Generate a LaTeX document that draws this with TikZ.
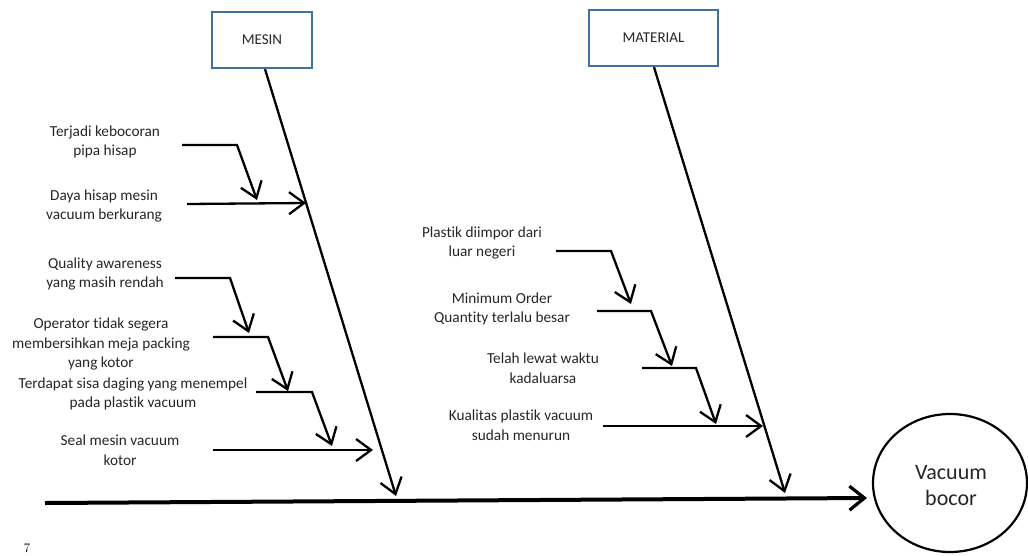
\documentclass[tikz,border=0pt]{standalone}
\usepackage{fontspec}
\setmainfont{Carlito}[Ligatures=NoCommon]
\newfontfamily\pageserif{Latin Modern Roman}
\usetikzlibrary{arrows.meta,shapes.geometric}
\definecolor{boxblue}{HTML}{41719C}
\definecolor{inkgray}{HTML}{262626}
\tikzset{
  cat/.style={draw=boxblue, line width=2.2pt, minimum width=100pt, minimum height=56pt, inner sep=0pt, text=inkgray, font=\fontsize{15}{18}\selectfont},
  cause/.style={align=center, inner sep=0pt, text=inkgray, font=\fontsize{15.3}{19.5}\selectfont},
  bone/.style={line width=2.3pt, -{Straight Barb[length=15pt,width=22pt,line width=2.3pt]}},
  spine/.style={line width=4pt, -{Straight Barb[length=15pt,width=24pt,line width=3.2pt]}},
  sub/.style={line width=2.3pt, -{Straight Barb[length=15pt,width=22pt,line width=2.3pt]}},
}
\begin{document}
\begin{tikzpicture}[x=1pt,y=-1pt]
\useasboundingbox (0,0) rectangle (1028,555);
% category boxes
\node[cat] (mesin) at (262,40) {MESIN};
\node[cat, minimum width=129pt] (material) at (653.5,38) {MATERIAL};
% effect
\node[draw, line width=2.2pt, ellipse, minimum width=154pt, minimum height=138pt, inner sep=0pt] (effect) at (950,483) {};
\node[align=center, text=inkgray, font=\fontsize{22}{26}\selectfont] (efftext) at (951,486) {Vacuum\\bocor};
% spine
\coordinate (sp0) at (45,503);
\coordinate (sp1) at (867,498);
\draw[spine] (sp0) -- (sp1);
% main bones
\coordinate (mtip) at (396,496);
\coordinate (ttip) at (785,493);
\draw[bone] (mesin.south -| 265,0) -- (mtip);
\draw[bone] (material.south -| 654,0) -- (ttip);

% MESIN causes
\node[cause] (c1) at (105,142) {Terjadi kebocoran\\pipa hisap};
\node[cause] (c2) at (104,206) {Daya hisap mesin\\vacuum berkurang};
\node[cause] (c3) at (105,274) {Quality awareness\\yang masih rendah};
\node[cause] (c4) at (101,344) {Operator tidak segera\\membersihkan meja packing\\yang kotor};
\node[cause] (c5) at (133,394) {Terdapat sisa daging yang menempel\\pada plastik vacuum};
\node[cause] (c6) at (120,450) {Seal mesin vacuum\\kotor};

\coordinate (a1) at (182,145); \coordinate (b1) at (237,145); \coordinate (e1) at (257,200);
\draw[sub] (a1) -- (b1) -- (e1);
\coordinate (a2) at (187,204); \coordinate (e2) at (306,203);
\draw[sub] (a2) -- (e2);
\coordinate (a3) at (175,278); \coordinate (b3) at (230,278); \coordinate (e3) at (249,333);
\draw[sub] (a3) -- (b3) -- (e3);
\coordinate (a4) at (213,337); \coordinate (b4) at (268,337); \coordinate (e4) at (288,391);
\draw[sub] (a4) -- (b4) -- (e4);
\coordinate (a5) at (256,392); \coordinate (b5) at (312,392); \coordinate (e5) at (332,446);
\draw[sub] (a5) -- (b5) -- (e5);
\coordinate (a6) at (213,450); \coordinate (e6) at (373,450);
\draw[sub] (a6) -- (e6);

% MATERIAL causes
\node[cause] (d1) at (482,243) {Plastik diimpor dari\\luar negeri};
\node[cause] (d2) at (502,309) {Minimum Order\\Quantity terlalu besar};
\node[cause] (d3) at (543,368) {Telah lewat waktu\\kadaluarsa};
\node[cause] (d4) at (521,425) {Kualitas plastik vacuum\\sudah menurun};

\coordinate (f1) at (556,251); \coordinate (g1) at (611,251); \coordinate (h1) at (631,304);
\draw[sub] (f1) -- (g1) -- (h1);
\coordinate (f2) at (597,311); \coordinate (g2) at (651,311); \coordinate (h2) at (672,366);
\draw[sub] (f2) -- (g2) -- (h2);
\coordinate (f3) at (642,368); \coordinate (g3) at (696,368); \coordinate (h3) at (716,424);
\draw[sub] (f3) -- (g3) -- (h3);
\coordinate (f4) at (603,426); \coordinate (h4) at (763,426);
\draw[sub] (f4) -- (h4);

% page number fragment
\node[anchor=south, inner sep=0pt, font=\pageserif\fontsize{13}{15}\selectfont] (pg) at (27,553) {7};
\end{tikzpicture}
\end{document}
